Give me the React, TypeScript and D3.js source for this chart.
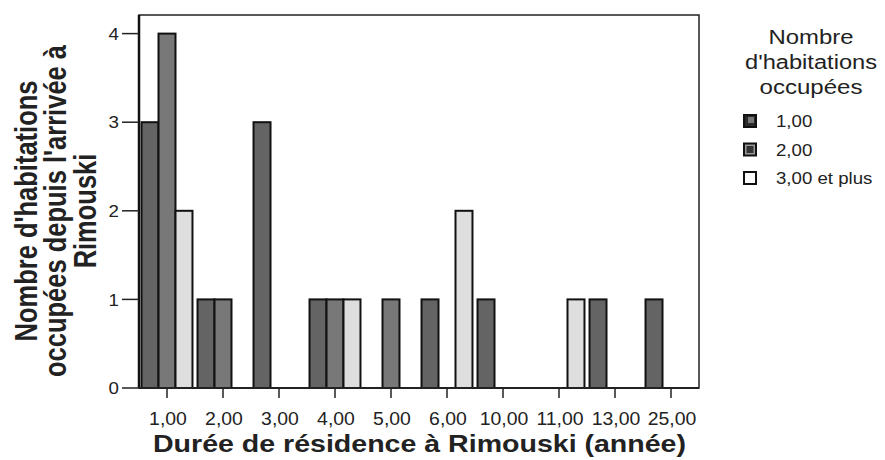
import React from "react";
import * as d3 from "d3";

const categories = ["1,00", "2,00", "3,00", "4,00", "5,00", "6,00", "10,00", "11,00", "13,00", "25,00"];
const seriesNames = ["1,00", "2,00", "3,00 et plus"];
const series1 = [3, 1, 3, 1, 0, 1, 1, 0, 1, 1];
const series2 = [4, 1, 0, 1, 1, 0, 0, 0, 0, 0];
const series3 = [2, 0, 0, 1, 0, 2, 0, 1, 0, 0];
const yTicks = [0, 1, 2, 3, 4];
const yTitleLines = ["Nombre d'habitations", "occupées depuis l'arrivée à", "Rimouski"];
const xTitle = "Durée de résidence à Rimouski (année)";
const legendTitleLines = ["Nombre", "d'habitations", "occupées"];

const W = 885;
const H = 460;
const M = { left: 139, right: 699, top: 15, bottom: 388 };
const fills = ["#646464", "#787878", "#dedede"];
const legendFills = ["#2a2a2a", "#9a9a9a", "#ffffff"];
const font = "Liberation Sans, Arial, sans-serif";
const SX = 1.24; // horizontal stretch seen in the reference text

const yTitleBaselines = [37, 66, 96];
const legendTitleLengths = [85, 132, 103];

export default function App() {
  const allSeries = [series1, series2, series3];
  const x0 = d3.scaleBand<string>().domain(categories).range([M.left, M.right]).paddingInner(0.09).paddingOuter(0.045);
  const x1 = d3.scaleBand<number>().domain([0, 1, 2]).range([0, x0.bandwidth()]);
  const y = d3.scaleLinear().domain([0, 4.21]).range([M.bottom, M.top]);

  return (
    <svg width={W} height={H} style={{ position: "absolute", left: 0, top: 0, background: "#fff" }} fontFamily={font}>
      <rect x={0} y={0} width={W} height={H} fill="#fff" />
      {/* bars */}
      {categories.map((c, i) => (
        <g key={c}>
          {allSeries.map((s, k) => {
            const v = s[i];
            if (v <= 0) return null;
            const bx = (x0(c) as number) + (x1(k) as number);
            return (
              <rect
                key={k}
                x={bx}
                y={y(v)}
                width={x1.bandwidth()}
                height={y(0) - y(v)}
                fill={fills[k]}
                stroke="#111"
                strokeWidth={2}
              />
            );
          })}
        </g>
      ))}
      {/* frame */}
      <rect x={M.left} y={M.top} width={M.right - M.left} height={M.bottom - M.top} fill="none" stroke="#222" strokeWidth={1.5} />
      <line x1={M.left} x2={M.left} y1={M.top} y2={M.bottom} stroke="#111" strokeWidth={2.5} />
      <line x1={M.left} x2={M.right} y1={M.bottom} y2={M.bottom} stroke="#222" strokeWidth={2} />
      {/* y axis */}
      {yTicks.map((t) => (
        <g key={t}>
          <line x1={M.left - 17} x2={M.left} y1={y(t)} y2={y(t)} stroke="#222" strokeWidth={1.5} />
          <g transform={`translate(${M.left - 20},${y(t)}) scale(1.1,1)`}>
            <text x={0} y={0} dy="0.36em" textAnchor="end" fontSize={17} fill="#222">
              {t}
            </text>
          </g>
        </g>
      ))}
      {/* x axis */}
      {categories.map((c) => {
        const cx = (x0(c) as number) + x0.bandwidth() / 2;
        return (
          <g key={c}>
            <line x1={cx} x2={cx} y1={M.bottom} y2={M.bottom + 10} stroke="#222" strokeWidth={1.5} />
            <g transform={`translate(${cx + 1},425) scale(1.08,1)`}>
              <text x={0} y={0} textAnchor="middle" fontSize={18} fill="#222">
                {c}
              </text>
            </g>
          </g>
        );
      })}
      <text
        x={153}
        y={452}
        fontSize={23.5}
        fontWeight="bold"
        fill="#222"
        textLength={533}
        lengthAdjust="spacingAndGlyphs"
      >
        {xTitle}
      </text>
      {/* y title */}
      {yTitleLines.map((l, i) => (
        <g key={i} transform={`translate(${yTitleBaselines[i]},211) scale(${SX},1) rotate(-90)`}>
          <text x={0} y={0} textAnchor="middle" fontSize={25.5} fontWeight="bold" fill="#222">
            {l}
          </text>
        </g>
      ))}
      {/* legend */}
      {legendTitleLines.map((l, i) => (
        <text
          key={i}
          x={811 - legendTitleLengths[i] / 2}
          y={44 + i * 25}
          fontSize={19.5}
          fill="#222"
          textLength={legendTitleLengths[i]}
          lengthAdjust="spacingAndGlyphs"
        >
          {l}
        </text>
      ))}
      {seriesNames.map((n, k) => (
        <g key={n} transform={`translate(744,${115 + k * 28.5})`}>
          <rect x={0} y={0} width={12} height={12} fill={legendFills[k]} stroke="#111" strokeWidth={2} />
          {k === 0 && <rect x={4} y={2} width={6} height={6} fill="#777" />}
          {k === 1 && <rect x={2.5} y={2.5} width={7} height={7} fill="#333" />}
          <g transform={`translate(32,12) scale(1.13,1)`}>
            <text x={0} y={0} fontSize={16.5} fill="#222">
              {n}
            </text>
          </g>
        </g>
      ))}
    </svg>
  );
}
